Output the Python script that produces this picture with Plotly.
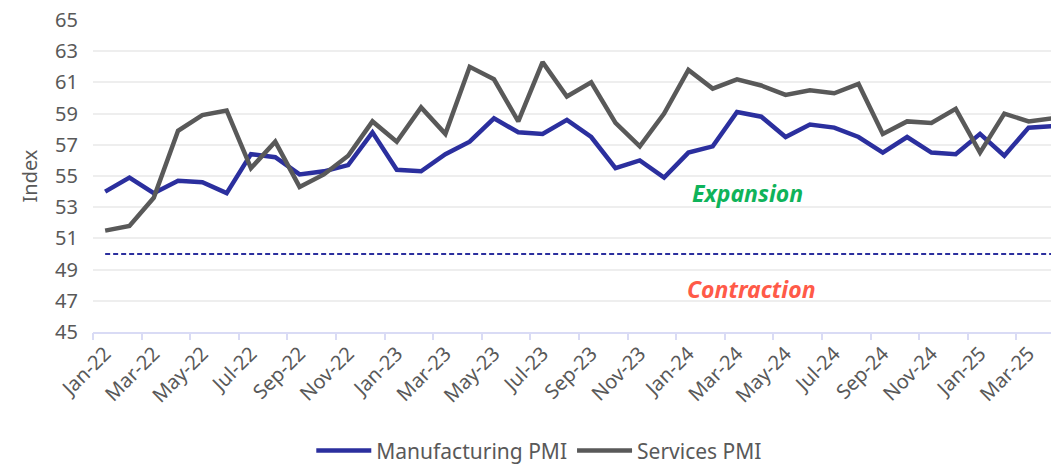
import plotly.graph_objects as go

# Dados mensais (jan-22 a abr-25)
months = ['Jan-22', 'Feb-22', 'Mar-22', 'Apr-22', 'May-22', 'Jun-22', 'Jul-22', 'Aug-22', 'Sep-22', 'Oct-22',
          'Nov-22', 'Dec-22', 'Jan-23', 'Feb-23', 'Mar-23', 'Apr-23', 'May-23', 'Jun-23', 'Jul-23', 'Aug-23',
          'Sep-23', 'Oct-23', 'Nov-23', 'Dec-23', 'Jan-24', 'Feb-24', 'Mar-24', 'Apr-24', 'May-24', 'Jun-24',
          'Jul-24', 'Aug-24', 'Sep-24', 'Oct-24', 'Nov-24', 'Dec-24', 'Jan-25', 'Feb-25', 'Mar-25', 'Apr-25']

manufacturing = [54.0, 54.9, 53.9, 54.7, 54.6, 53.9, 56.4, 56.2, 55.1, 55.3,
                 55.7, 57.8, 55.4, 55.3, 56.4, 57.2, 58.7, 57.8, 57.7, 58.6,
                 57.5, 55.5, 56.0, 54.9, 56.5, 56.9, 59.1, 58.8, 57.5, 58.3,
                 58.1, 57.5, 56.5, 57.5, 56.5, 56.4, 57.7, 56.3, 58.1, 58.2]

services = [51.5, 51.8, 53.6, 57.9, 58.9, 59.2, 55.5, 57.2, 54.3, 55.1,
            56.3, 58.5, 57.2, 59.4, 57.7, 62.0, 61.2, 58.5, 62.3, 60.1,
            61.0, 58.4, 56.9, 59.0, 61.8, 60.6, 61.2, 60.8, 60.2, 60.5,
            60.3, 60.9, 57.7, 58.5, 58.4, 59.3, 56.5, 59.0, 58.5, 58.7]

threshold = [50] * len(months)

x = list(range(len(months)))
tick_idx = x[::2]
tick_text = months[::2]
boundaries = [i - 0.5 for i in range(0, len(months) + 1, 2)]

FONT = 'Noto Sans'
GREY_TXT = '#595959'

fig = go.Figure()

fig.add_trace(go.Scatter(x=x, y=threshold, mode='lines', showlegend=False, hoverinfo='skip',
                         line=dict(color='#2b2f9e', width=2, dash='5px,3px')))
fig.add_trace(go.Scatter(x=x, y=manufacturing, mode='lines', name='Manufacturing PMI',
                         line=dict(color='#2b2f9e', width=4.5)))
fig.add_trace(go.Scatter(x=x, y=services, mode='lines', name='Services PMI',
                         line=dict(color='#595959', width=4.5)))

# eixo auxiliar só para as marcas de tick nas fronteiras das categorias
fig.add_trace(go.Scatter(x=[None], y=[None], xaxis='x2', showlegend=False, hoverinfo='skip'))

fig.add_annotation(x=26.45, y=53.9, text='<b><i>Expansion</i></b>', showarrow=False,
                   font=dict(color='#0fb35a', size=23, family=FONT))
fig.add_annotation(x=26.6, y=47.75, text='<b><i>Contraction</i></b>', showarrow=False,
                   font=dict(color='#ff5a48', size=23, family=FONT))

# a página tem 8px de margem no body, por isso as margens compensam
fig.update_layout(
    width=1059,
    height=474,
    margin=dict(l=85, r=8, t=12, b=150),
    plot_bgcolor='white',
    paper_bgcolor='white',
    font=dict(family=FONT, color=GREY_TXT, size=18),
    xaxis=dict(
        range=[-0.5, 39.25], automargin=False,
        tickmode='array', tickvals=tick_idx, ticktext=tick_text,
        tickangle=-45, ticks='', showgrid=False, zeroline=False,
        showline=True, linecolor='#d9dbf5', linewidth=2,
        tickfont=dict(size=20, color=GREY_TXT),
    ),
    xaxis2=dict(
        overlaying='x', range=[-0.5, 39.25], tickmode='array', tickvals=boundaries,
        showticklabels=False, ticks='outside', ticklen=7, tickwidth=2, tickcolor='#d9dbf5',
        showgrid=False, zeroline=False, side='bottom', anchor='y', automargin=False,
    ),
    yaxis=dict(
        range=[45, 65], tickmode='array', tickvals=list(range(45, 66, 2)),
        showgrid=True, gridcolor='#eeeeee', gridwidth=2, zeroline=False, automargin=False,
        ticks='', ticklabelstandoff=14, ticklabeloverflow='allow',
        tickfont=dict(size=20, color=GREY_TXT),
        title=dict(text='Index', font=dict(size=20, color=GREY_TXT), standoff=12),
    ),
    legend=dict(
        orientation='h', x=0.462, xanchor='center', y=-0.381, yanchor='middle',
        font=dict(size=21, color=GREY_TXT), itemwidth=55, tracegroupgap=0,
    ),
    showlegend=True,
)

fig.write_html('out.html')
